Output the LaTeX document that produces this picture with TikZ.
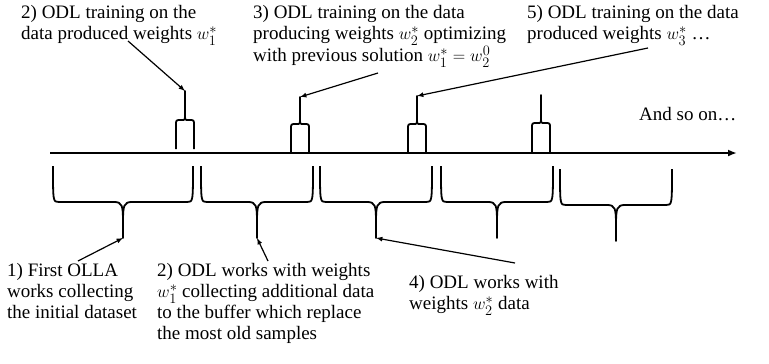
\documentclass[tikz,border=0pt]{standalone}
\usepackage{fontspec}
\setmainfont{Liberation Serif}
\usepackage{amsmath}
\usepackage{tikz}
\usetikzlibrary{calc}
\usetikzlibrary{arrows}
\usetikzlibrary{arrows.meta}
\usetikzlibrary{positioning}

% brace below the time axis: left x, right x, top y, name of tip
\newcommand{\downbrace}[4]{%
\draw [brace] (#1,#3) .. controls (#1,{#3+36}) and (#1,{#3+36}) .. ({#1+6},{#3+36})
  -- ({(#1+#2)/2-9},{#3+36}) .. controls ({(#1+#2)/2-1},{#3+36}) and ({(#1+#2)/2},{#3+39}) .. ({(#1+#2)/2},{#3+56})
  -- ({(#1+#2)/2},{#3+72}) -- ({(#1+#2)/2},{#3+56})
  .. controls ({(#1+#2)/2},{#3+39}) and ({(#1+#2)/2+1},{#3+36}) .. ({(#1+#2)/2+9},{#3+36})
  -- ({#2-6},{#3+36}) .. controls (#2,{#3+36}) and (#2,{#3+36}) .. (#2,#3);
\coordinate (#4) at ({(#1+#2)/2},{#3+72});}

% small brace above the time axis: left x, right x, base y, top y, spike y, name of tip
\newcommand{\upbrace}[6]{%
\draw [brace] (#1,#3) -- (#1,{#4+5}) .. controls (#1,#4) .. ({#1+5},#4)
  -- ({(#1+#2)/2-3},#4) .. controls ({(#1+#2)/2},#4) .. ({(#1+#2)/2},{#4-6})
  -- ({(#1+#2)/2},#5) -- ({(#1+#2)/2},{#4-6})
  .. controls ({(#1+#2)/2},#4) .. ({(#1+#2)/2+3},#4)
  -- ({#2-5},#4) .. controls (#2,#4) .. (#2,{#4+5}) -- (#2,#3);
\coordinate (#6) at ({(#1+#2)/2},#5);}

\begin{document}
\begin{tikzpicture}[x=1pt, y=-1pt,
  brace/.style={draw=black, line width=1.8pt, line join=round},
  axis/.style={draw=black, line width=2pt, -{Latex[length=9pt,width=7pt]}},
  label/.style={anchor=north west, inner sep=0pt, align=left,
    font=\fontsize{19}{21}\selectfont}]
\useasboundingbox (0,0) rectangle (769,364);

% time axis
\coordinate (t0) at (50,153);
\coordinate (tend) at (737,153);
\draw [axis] (t0) -- (tend);

% training phases
\upbrace{176}{194}{149}{120}{91}{P1}
\upbrace{291}{309}{153}{124}{97}{P2}
\upbrace{408}{426}{153}{124}{96}{P3}
\upbrace{532}{550}{153}{123}{95}{P4}

% working phases
\downbrace{53}{193}{166}{B1}
\downbrace{201}{313}{166}{B2}
\downbrace{320}{432}{166}{B3}
\downbrace{441}{553}{166}{B4}
\downbrace{560}{672}{169}{B5}

% labels
\node [label] (train1) at (21, 5) {2) ODL training on the\\data produced weights $w_1^*$};
\node [label] (train2) at (253, 5) {3) ODL training on the data\\producing weights $w_2^*$ optimizing\\with previous solution $w_1^* = w_2^0$};
\node [label] (train3) at (527, 5) {5) ODL training on the data\\produced weights $w_3^*$ …};
\node [label] (more) at (639, 107) {And so on…};
\node [label] (work0) at (7, 263) {1) First OLLA\\works collecting\\the initial dataset};
\node [label] (work1) at (157, 263) {2) ODL works with weights\\$w_1^*$ collecting additional data\\to the buffer which replace\\the most old samples};
\node [label] (work2) at (409, 275) {4) ODL works with\\weights $w_2^*$ data};

% arrow tails
\coordinate (a1) at (128, 41);
\coordinate (a2) at (378, 73);
\coordinate (a3) at (648, 48);
\coordinate (a4) at (78, 261);
\coordinate (a5) at (268, 261);
\coordinate (a6) at (515, 263);

\draw [-latex, draw = black, line width=1.2pt] (a1) to (P1);
\draw [-latex, draw = black, line width=1.2pt] (a2) to (P2);
\draw [-latex, draw = black, line width=1.2pt] (a3) to (P3);
\draw [-latex, draw = black, line width=1.2pt] (a4) to (B1);
\draw [-latex, draw = black, line width=1.2pt] (a5) to (B2);
\draw [-latex, draw = black, line width=1.2pt] (a6) to (B3);
\end{tikzpicture}
\end{document}
